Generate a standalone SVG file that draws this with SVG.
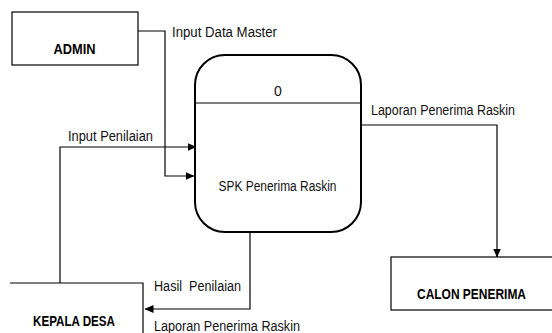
<svg xmlns="http://www.w3.org/2000/svg" width="552" height="333" viewBox="0 0 552 333">
<style>
.box{fill:#fff;stroke:#000;stroke-width:1.2}
.proc{fill:#fff;stroke:#000;stroke-width:2}
.conn{fill:none;stroke:#000;stroke-width:1.2}
.lbl{font-family:"Liberation Sans",Arial,sans-serif;font-size:14px;fill:#111}
.ent{font-family:"Liberation Sans",Arial,sans-serif;font-size:14px;font-weight:bold;fill:#000}
</style>
<defs>
<marker id="ah" markerWidth="9" markerHeight="8" refX="8.5" refY="4" orient="auto" markerUnits="userSpaceOnUse">
<path d="M0,0 L9,4 L0,8 Z" fill="#000"/>
</marker>
</defs>
<rect width="552" height="333" fill="#fff"/>
<g id="connectors">
<path class="conn" d="M138,31 H165 V176 H194" marker-end="url(#ah)"/>
<path class="conn" d="M60,283 V147 H196" marker-end="url(#ah)"/>
<path class="conn" d="M361,125 H497 V257" marker-end="url(#ah)"/>
<path class="conn" d="M250,232 V309 H145" marker-end="url(#ah)"/>
<text class="lbl" x="172" y="37" textLength="105" lengthAdjust="spacingAndGlyphs">Input Data Master</text>
<text class="lbl" x="68" y="141" textLength="85" lengthAdjust="spacingAndGlyphs">Input Penilaian</text>
<text class="lbl" x="371" y="115" textLength="144" lengthAdjust="spacingAndGlyphs">Laporan Penerima Raskin</text>
<text class="lbl" x="154" y="291" textLength="87" lengthAdjust="spacingAndGlyphs" xml:space="preserve">Hasil  Penilaian</text>
<text class="lbl" x="154" y="331" textLength="146" lengthAdjust="spacingAndGlyphs">Laporan Penerima Raskin</text>
</g>
<g id="admin">
<rect class="box" x="12" y="12" width="126" height="53"/>
<text class="ent" x="74.5" y="54" text-anchor="middle" textLength="42" lengthAdjust="spacingAndGlyphs">ADMIN</text>
</g>
<g id="process">
<rect class="proc" x="195" y="55" width="166" height="177" rx="30" ry="30"/>
<line x1="195" y1="103" x2="361" y2="103" stroke="#000" stroke-width="1.2"/>
<text class="lbl" x="278" y="96" text-anchor="middle">0</text>
<text class="lbl" x="277.5" y="191" text-anchor="middle" textLength="118" lengthAdjust="spacingAndGlyphs">SPK Penerima Raskin</text>
</g>
<g id="kepala-desa">
<path class="box" d="M10,283 H143 V334" fill="none"/>
<text class="ent" x="74" y="326" text-anchor="middle" textLength="82" lengthAdjust="spacingAndGlyphs">KEPALA DESA</text>
</g>
<g id="calon-penerima">
<rect class="box" x="391" y="257" width="170" height="53"/>
<text class="ent" x="471.5" y="299" text-anchor="middle" textLength="109" lengthAdjust="spacingAndGlyphs">CALON PENERIMA</text>
</g>
</svg>
